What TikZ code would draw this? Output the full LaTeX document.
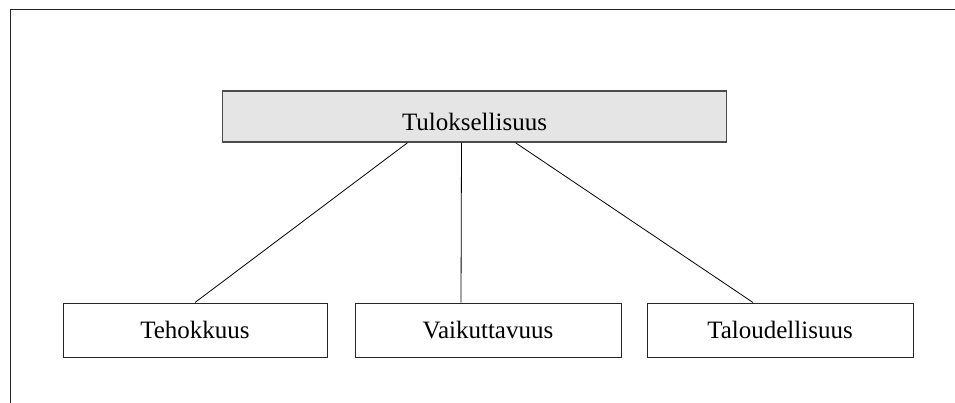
\documentclass[tikz,border=0pt]{standalone}
\usepackage{fontspec}
\setmainfont{Liberation Serif}

\begin{document}
\begin{tikzpicture}[x=1pt,y=-1pt,
    box/.style={draw=black!85, line width=1pt, minimum width=266pt, minimum height=54pt,
        inner sep=0pt, text height=17pt, text depth=0pt, font=\fontsize{25}{30}\selectfont}]
    \useasboundingbox (0,0) rectangle (955,403);
    \draw[black!85, line width=1pt] (955,10) -- (10,10) -- (10,403); %frame

    \node[box, draw=black!70, line width=1.5pt, fill=gray!20, minimum width=504pt, minimum height=51pt,
        text height=28.4pt] (tulos) at (474.5,116.5) {Tuloksellisuus};

    \node[box, minimum width=264pt] (teho) at (195,330) {Tehokkuus};
    \node[box] (vaik) at (488,330) {Vaikuttavuus};
    \node[box] (talo) at (780,330) {Taloudellisuus};

    \draw[line width=0.8pt] ([xshift=-67pt]tulos.south) -- (teho.north);
    \draw[line width=0.8pt] ([xshift=-13pt]tulos.south) -- ([xshift=-27pt]vaik.north);
    \draw[line width=0.8pt] ([xshift=41pt]tulos.south) -- ([xshift=-27pt]talo.north);
\end{tikzpicture}
\end{document}
